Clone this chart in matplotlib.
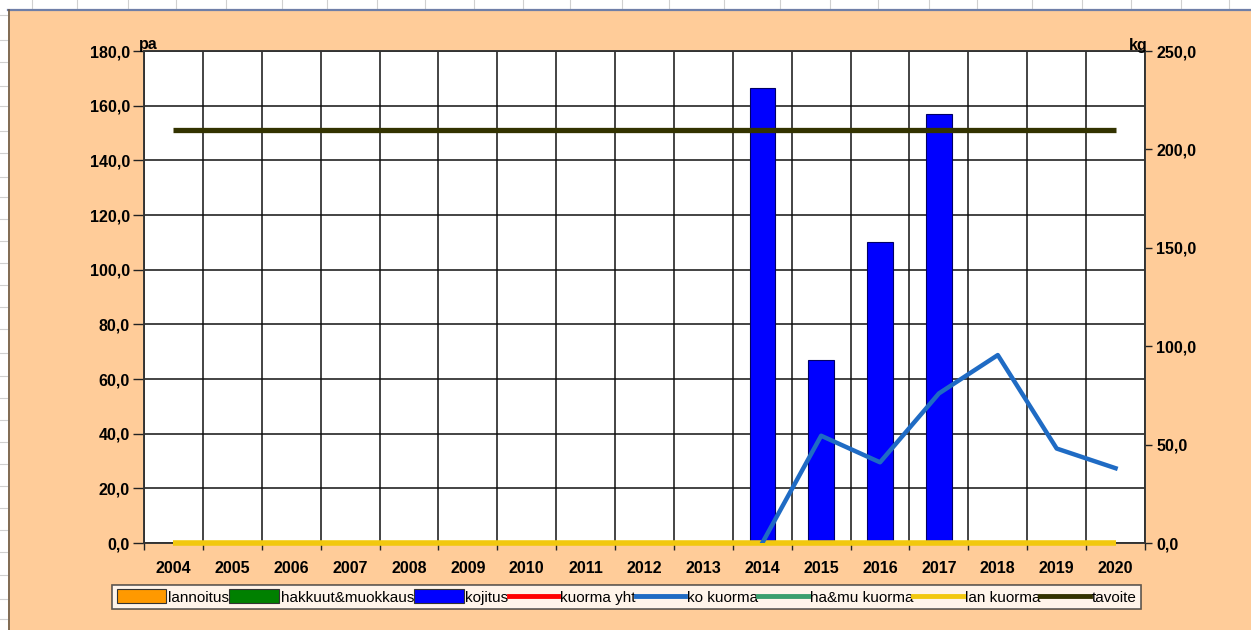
import numpy as np
import matplotlib
matplotlib.use("Agg")
import matplotlib.pyplot as plt
from matplotlib.patches import Rectangle, Patch
from matplotlib.lines import Line2D

# ---- data ----
years = [str(y) for y in range(2004, 2021)]
kojitus = [0, 0, 0, 0, 0, 0, 0, 0, 0, 0, 166.5, 67, 110, 157, 0, 0, 0]
ko_kuorma = [np.nan] * 10 + [0, 54.5, 41, 76, 95.5, 48, 38]
lan_kuorma = [0] * 17
tavoite = [151] * 17
left_ticks = [0, 20, 40, 60, 80, 100, 120, 140, 160, 180]
right_ticks = [0, 50, 100, 150, 200, 250]

W, H = 1251, 630
fig = plt.figure(figsize=(W / 100, H / 100), dpi=100)
fig.patch.set_facecolor("white")

# spreadsheet cell lines
for x in [32, 77, 128, 176, 226, 282, 327, 377, 425, 474, 523, 570, 622, 669, 724,
          780, 830, 878, 929, 977, 1032, 1082, 1131, 1181, 1229]:
    fig.add_artist(Line2D([x / W, x / W], [1 - 0 / H, 1 - 9 / H], color="#d0d0d0", lw=0.8))
for y in [15, 40, 62, 86, 106, 131, 153, 177, 197, 219, 241, 263, 285, 307, 329, 353,
          376, 398, 420, 442, 464, 486, 508, 530, 552, 575, 599, 619]:
    fig.add_artist(Line2D([0, 8 / W], [1 - y / H, 1 - y / H], color="#d0d0d0", lw=0.8))

# peach chart area
fig.add_artist(Rectangle((8 / W, 0), 1 - 8 / W, 1 - 9.5 / H, transform=fig.transFigure,
                         facecolor="#FFCC99", edgecolor="none", zorder=0))
fig.add_artist(Line2D([8 / W, 1], [1 - 9.5 / H, 1 - 9.5 / H], color="#6f7fa8", lw=1.6))
fig.add_artist(Line2D([8.5 / W, 8.5 / W], [0, 1 - 9.5 / H], color="#6b5a48", lw=1.2))

L, R, T, B = 144, 1145, 51, 543
ax = fig.add_axes([L / W, 1 - B / H, (R - L) / W, (B - T) / H])
ax.set_facecolor("white")
ax2 = ax.twinx()

x = np.arange(len(years))
ax.bar(x, kojitus, width=0.43, color="#0000FF", edgecolor="#000066", linewidth=0.8, zorder=3)
ax.plot(x, tavoite, color="#333300", lw=3.8, zorder=4, solid_capstyle="butt")
ax2.plot(x, lan_kuorma, color="#F2C80F", lw=4.0, zorder=5, solid_capstyle="butt", clip_on=False)
ax2.plot(x, ko_kuorma, color="#1F6BC4", lw=3.2, zorder=6)

ax.set_xlim(-0.5, len(years) - 0.5)
ax.set_ylim(0, 180)
ax2.set_ylim(0, 250)

fp = dict(family="Liberation Sans", weight="bold", size=11.5)
ax.set_yticks(left_ticks)
ax.set_yticklabels([f"{v:.1f}".replace(".", ",") for v in left_ticks], **fp)
ax2.set_yticks(right_ticks)
ax2.set_yticklabels([f"{v:.1f}".replace(".", ",") for v in right_ticks], **fp)
ax.set_xticks(x)
ax.set_xticklabels(years, **fp)
ax.set_xticks(np.arange(-0.5, len(years)), minor=True)
ax.tick_params(axis="x", which="major", length=0, pad=13)
ax.tick_params(axis="x", which="minor", length=5, width=1, color="#222222", direction="out")
ax.tick_params(axis="y", length=8, width=1, color="#222222", pad=2)
ax2.tick_params(axis="y", length=5, width=1, color="#222222", pad=3)
ax.grid(True, which="minor", axis="x", color="#111111", lw=1.1, zorder=1)
ax.grid(True, which="major", axis="y", color="#111111", lw=1.1, zorder=1)
ax.grid(False, which="major", axis="x")
ax.set_axisbelow(True)
for sp in list(ax.spines.values()) + list(ax2.spines.values()):
    sp.set_color("#333333")
    sp.set_linewidth(1.1)

ax.text(-0.42, 179.5, "pa", ha="center", va="bottom", **fp)
ax2.text(16.55, 249, "kg", ha="right", va="bottom", **fp)

handles = [
    Patch(facecolor="#FF9900", edgecolor="#333333", lw=0.8, label="lannoitus"),
    Patch(facecolor="#008000", edgecolor="#333333", lw=0.8, label="hakkuut&muokkaus"),
    Patch(facecolor="#0000FF", edgecolor="#333333", lw=0.8, label="kojitus"),
    Line2D([], [], color="#FF0000", lw=3.5, label="kuorma yht"),
    Line2D([], [], color="#1F6BC4", lw=3.5, label="ko kuorma"),
    Line2D([], [], color="#3A9F6F", lw=3.5, label="ha&mu kuorma"),
    Line2D([], [], color="#F2C80F", lw=3.5, label="lan kuorma"),
    Line2D([], [], color="#333300", lw=3.5, label="tavoite"),
]
leg = fig.legend(handles=handles, loc="center", bbox_to_anchor=(626.5 / W, 1 - 597 / H),
                 ncol=8, frameon=True, fancybox=False, handlelength=3.25, handleheight=1.0,
                 handletextpad=0.12, columnspacing=0.0, borderpad=0.3, borderaxespad=0,
                 prop=dict(family="Liberation Sans", size=11))
leg.get_frame().set_edgecolor("#333333")
leg.get_frame().set_linewidth(1.2)
leg.get_frame().set_facecolor("white")

fig.savefig("out.png", dpi=100, facecolor=fig.get_facecolor())
